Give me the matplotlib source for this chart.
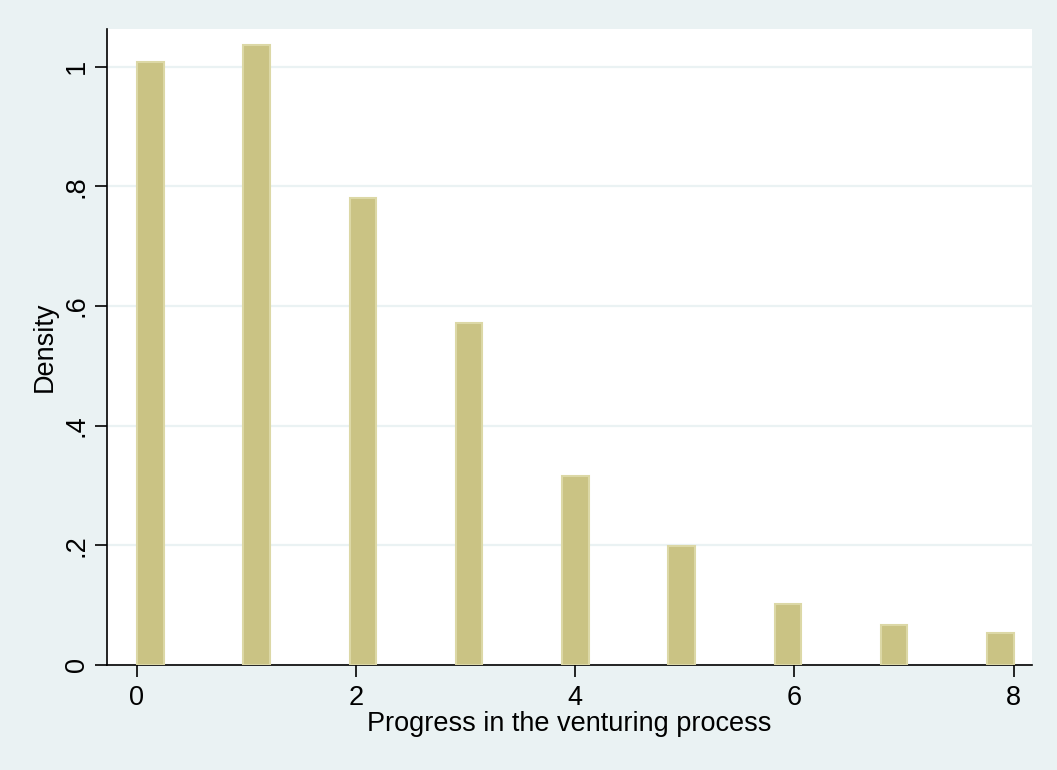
import numpy as np
import matplotlib
matplotlib.use("Agg")
import matplotlib.pyplot as plt

# progress stage values and their histogram density
progress = [0, 1, 2, 3, 4, 5, 6, 7, 8]
density = [1.007, 1.036, 0.781, 0.571, 0.316, 0.199, 0.102, 0.067, 0.053]

n_bins = 33
x_min, x_max = 0, 8
yticks = [0, 0.2, 0.4, 0.6, 0.8, 1.0]
ytick_labels = ["0", ".2", ".4", ".6", ".8", "1"]
xticks = [0, 2, 4, 6, 8]

bg = "#EAF2F3"
bar_fill = "#CAC384"
bar_edge = "#DCD8A6"

plt.rcParams["font.family"] = ["Liberation Sans", "DejaVu Sans"]

width = (x_max - x_min) / n_bins
bin_idx = np.minimum(np.floor((np.array(progress) - x_min) / width), n_bins - 1)
left = x_min + bin_idx * width

fig = plt.figure(figsize=(10.57, 7.70), dpi=100, facecolor=bg)
ax = fig.add_axes([0.1012, 0.1364, 0.875, 0.826])
ax.set_facecolor("white")

ax.bar(left, density, width=width, align="edge", color=bar_fill,
       edgecolor=bar_edge, linewidth=1.5, zorder=3)

ax.set_xlim(-0.274, 8.166)
ax.set_ylim(0, 1.063)

ax.set_yticks(yticks)
ax.set_yticklabels(ytick_labels, rotation=90, va="center")
ax.set_xticks(xticks)
ax.grid(axis="y", color=bg, linewidth=1.6, zorder=1)
ax.set_axisbelow(True)

for side in ["top", "right"]:
    ax.spines[side].set_visible(False)
for side in ["left", "bottom"]:
    ax.spines[side].set_color("black")
    ax.spines[side].set_linewidth(1.2)

ax.tick_params(axis="both", length=8.5, width=1.2, color="black",
               labelsize=19.5, colors="black")
ax.tick_params(axis="x", pad=6)
ax.tick_params(axis="y", pad=4)

ax.set_xlabel("Progress in the venturing process", fontsize=19.5, labelpad=0)
ax.set_ylabel("Density", fontsize=19.5, labelpad=4)

fig.savefig("out.png", dpi=100, facecolor=bg)
